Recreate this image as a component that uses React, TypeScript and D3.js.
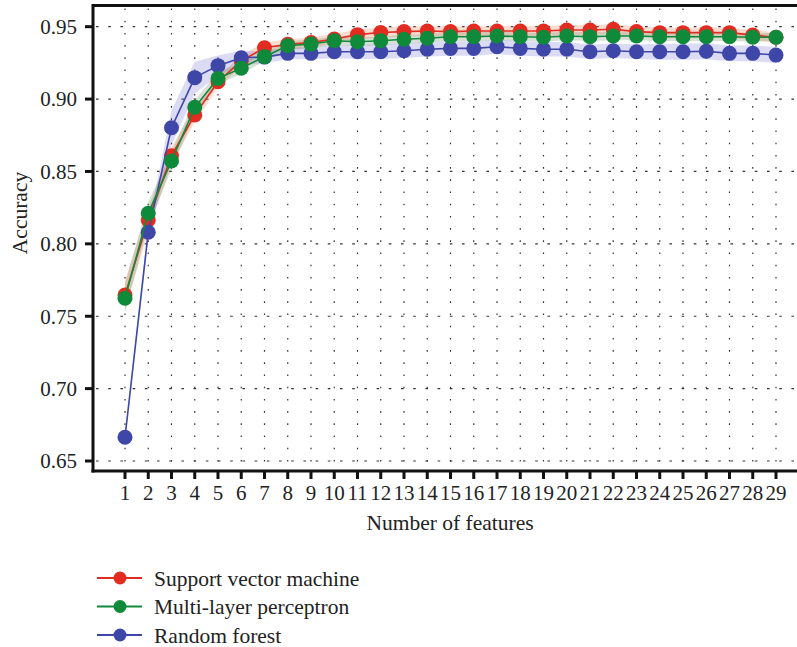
import * as d3 from "d3";

const features = d3.range(1, 30);

const svmAcc = [
  0.7647, 0.8165, 0.8609, 0.889, 0.912, 0.9263, 0.9355, 0.9378, 0.939, 0.9415,
  0.9445, 0.946, 0.9466, 0.947, 0.9466, 0.947, 0.947, 0.947, 0.947, 0.9477,
  0.9477, 0.9482, 0.9466, 0.9459, 0.9459, 0.9459, 0.9459, 0.9442, 0.9427,
];
const mlpAcc = [
  0.7624, 0.8211, 0.8572, 0.8943, 0.9143, 0.9213, 0.9293, 0.9369, 0.938, 0.9403,
  0.9396, 0.9403, 0.9413, 0.942, 0.9431, 0.9431, 0.9436, 0.9431, 0.9427, 0.9436,
  0.9431, 0.9436, 0.9436, 0.9431, 0.9431, 0.9431, 0.9431, 0.9427, 0.9427,
];
const rfAcc = [
  0.6664, 0.808, 0.8802, 0.9148, 0.9231, 0.9286, 0.929, 0.9316, 0.9316, 0.9327,
  0.9327, 0.9327, 0.9334, 0.9344, 0.935, 0.935, 0.9362, 0.935, 0.9344, 0.9344,
  0.9327, 0.9334, 0.9327, 0.9327, 0.9327, 0.933, 0.9316, 0.9316, 0.9304,
];

// spread of the shaded band round each line
const svmStd = [
  0.01, 0.008, 0.006, 0.005, 0.004, 0.004, 0.0035, 0.0035, 0.0035, 0.0035,
  0.0035, 0.0035, 0.0035, 0.0035, 0.0035, 0.0035, 0.0035, 0.0035, 0.0035, 0.0035,
  0.0035, 0.0035, 0.0035, 0.0035, 0.0035, 0.0035, 0.0035, 0.0035, 0.0035,
];
const mlpStd = [
  0.01, 0.008, 0.006, 0.005, 0.004, 0.004, 0.003, 0.003, 0.003, 0.003,
  0.003, 0.003, 0.003, 0.003, 0.003, 0.003, 0.003, 0.003, 0.003, 0.003,
  0.003, 0.003, 0.003, 0.003, 0.003, 0.003, 0.003, 0.003, 0.003,
];
const rfStd = [
  0.002, 0.005, 0.012, 0.011, 0.007, 0.005, 0.004, 0.004, 0.004, 0.0045,
  0.005, 0.005, 0.005, 0.005, 0.005, 0.005, 0.005, 0.005, 0.005, 0.005,
  0.005, 0.005, 0.005, 0.0055, 0.0055, 0.0055, 0.0055, 0.0055, 0.0055,
];

const yTicks = [0.65, 0.7, 0.75, 0.8, 0.85, 0.9, 0.95];

const series = [
  { name: "Support vector machine", acc: svmAcc, std: svmStd, color: "#e22c21", band: "rgba(236,130,90,0.28)" },
  { name: "Random forest", acc: rfAcc, std: rfStd, color: "#3e47a8", band: "rgba(110,110,215,0.25)" },
  { name: "Multi-layer perceptron", acc: mlpAcc, std: mlpStd, color: "#0f8a3b", band: "rgba(100,130,90,0.25)" },
];
const legendOrder = [0, 2, 1];

const W = 797;
const H = 647;
const left = 93;
const right = 797;
const top = 5.5;
const bottom = 471;
const font = "Liberation Serif";
const textColor = "#222";

export default function App() {
  const x = d3.scaleLinear().domain([1, 29]).range([125, 776]);
  const y = d3.scaleLinear().domain([0.65, 0.95]).range([461, 26.7]);

  const line = d3
    .line<number>()
    .x((d, i) => x(features[i]))
    .y((d) => y(d));

  return (
    <svg
      width={W}
      height={H}
      style={{ position: "absolute", left: 0, top: 0, background: "#fff", fontFamily: font }}
    >
      {/* vertical dotted grid */}
      {features.map((f) => (
        <line
          key={"vx" + f}
          x1={x(f)}
          x2={x(f)}
          y1={top + 3}
          y2={bottom}
          stroke="#333"
          strokeWidth={1.2}
          strokeDasharray="1.6 10.6"
        />
      ))}
      {/* horizontal dashed grid */}
      {yTicks.map((t) => (
        <line
          key={"hy" + t}
          x1={left}
          x2={right}
          y1={y(t)}
          y2={y(t)}
          stroke="#333"
          strokeWidth={1.2}
          strokeDasharray="2.6 9.6"
          strokeDashoffset={-3}
        />
      ))}

      {/* bands */}
      {series.map((s) => {
        const area = d3
          .area<number>()
          .x((d, i) => x(features[i]))
          .y0((d, i) => y(d - s.std[i]))
          .y1((d, i) => y(d + s.std[i]));
        return <path key={"b" + s.name} d={area(s.acc) || ""} fill={s.band} stroke="none" />;
      })}

      {/* lines and markers */}
      {series.map((s) => (
        <g key={"s" + s.name}>
          <path d={line(s.acc) || ""} fill="none" stroke={s.color} strokeWidth={1.6} />
          {s.acc.map((v, i) => (
            <circle key={i} cx={x(features[i])} cy={y(v)} r={7.5} fill={s.color} />
          ))}
        </g>
      ))}

      {/* axes */}
      <line x1={left} x2={right} y1={top} y2={top} stroke="#111" strokeWidth={3} />
      <line x1={left} x2={left} y1={top - 1.5} y2={bottom + 1.5} stroke="#111" strokeWidth={3} />
      <line x1={left - 1.5} x2={right} y1={bottom} y2={bottom} stroke="#111" strokeWidth={3} />
      {yTicks.map((t) => (
        <g key={"yt" + t}>
          <line x1={left - 8} x2={left} y1={y(t)} y2={y(t)} stroke="#111" strokeWidth={3} />
          <text
            x={left - 16}
            y={y(t)}
            dy="0.35em"
            textAnchor="end"
            fontSize={21}
            fill={textColor}
          >
            {d3.format(".2f")(t)}
          </text>
        </g>
      ))}
      {features.map((f) => (
        <g key={"xt" + f}>
          <line x1={x(f)} x2={x(f)} y1={bottom} y2={bottom + 8} stroke="#111" strokeWidth={3} />
          <text x={x(f)} y={bottom + 29} textAnchor="middle" fontSize={21} fill={textColor}>
            {f}
          </text>
        </g>
      ))}
      <text x={450} y={530} textAnchor="middle" fontSize={21.5} fill={textColor}>
        Number of features
      </text>
      <text
        transform={`translate(27,213) rotate(-90)`}
        textAnchor="middle"
        fontSize={21.5}
        fill={textColor}
      >
        Accuracy
      </text>

      {/* legend */}
      {legendOrder.map((k, i) => {
        const s = series[k];
        const ly = 578 + i * 28.5;
        return (
          <g key={"lg" + s.name}>
            <line x1={97} x2={142} y1={ly} y2={ly} stroke={s.color} strokeWidth={2} />
            <circle cx={120} cy={ly} r={6.5} fill={s.color} />
            <text x={154} y={ly} dy="0.35em" fontSize={21.5} fill={textColor}>
              {s.name}
            </text>
          </g>
        );
      })}
    </svg>
  );
}
